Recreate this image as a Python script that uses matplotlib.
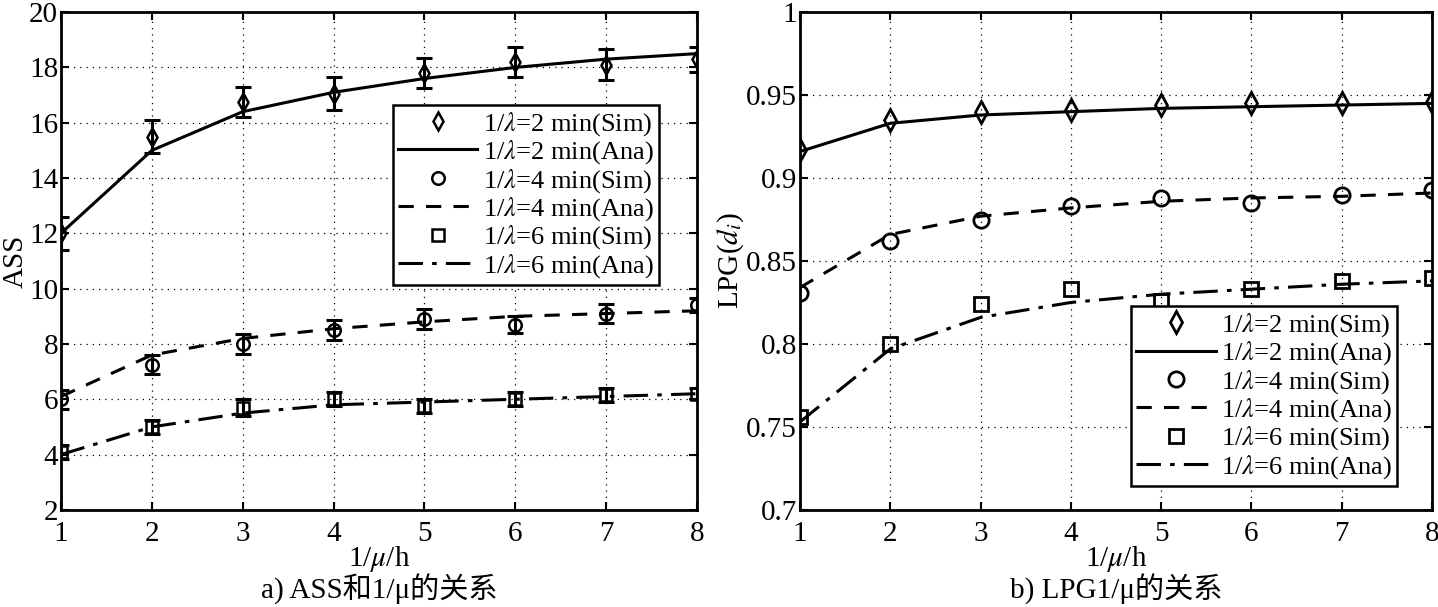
import numpy as np
import matplotlib.pyplot as plt

plt.rcParams['font.family'] = ['Liberation Serif', 'Noto Sans CJK SC']
plt.rcParams['mathtext.fontset'] = 'stix'

x = [1, 2, 3, 4, 5, 6, 7, 8]
labels = ['2', '4', '6']

# a) ASS
ass_sim = [[12.0, 15.5, 16.75, 17.05, 17.8, 18.2, 18.1, 18.3],
           [6.0, 7.25, 8.0, 8.5, 8.9, 8.7, 9.1, 9.4],
           [4.1, 5.0, 5.7, 6.0, 5.75, 6.0, 6.15, 6.2]]
ass_err = [[0.6, 0.6, 0.55, 0.6, 0.55, 0.55, 0.55, 0.45],
           [0.35, 0.35, 0.35, 0.35, 0.35, 0.3, 0.35, 0.25],
           [0.25, 0.25, 0.3, 0.25, 0.25, 0.25, 0.25, 0.2]]
ass_ana = [[12.0, 15.0, 16.4, 17.1, 17.6, 18.0, 18.3, 18.5],
           [6.1, 7.6, 8.2, 8.55, 8.8, 9.0, 9.1, 9.2],
           [4.0, 5.0, 5.5, 5.8, 5.9, 6.0, 6.1, 6.2]]

# b) LPG
lpg_sim = [[0.917, 0.935, 0.940, 0.941, 0.944, 0.945, 0.945, 0.946],
           [0.831, 0.862, 0.875, 0.883, 0.888, 0.885, 0.890, 0.893],
           [0.756, 0.800, 0.824, 0.833, 0.826, 0.833, 0.838, 0.840]]
lpg_ana = [[0.916, 0.933, 0.938, 0.940, 0.942, 0.943, 0.944, 0.945],
           [0.834, 0.866, 0.877, 0.882, 0.886, 0.888, 0.889, 0.891],
           [0.753, 0.797, 0.816, 0.825, 0.830, 0.833, 0.836, 0.838]]

markers = ['d', 'o', 's']
msizes = [9, 9, 8]
styles = ['-', (0, (5, 4)), (0, (8, 3, 1.5, 3))]

fig = plt.figure(figsize=(14.38, 6.07), dpi=100)
ax1 = fig.add_axes([0.0424, 0.160, 0.4423, 0.820])
ax2 = fig.add_axes([0.5563, 0.160, 0.4395, 0.820])


def style_axes(ax):
    ax.set_xlim(1, 8)
    ax.grid(True, color='black', linestyle=(0, (1, 4)), linewidth=0.9)
    ax.tick_params(direction='in', top=True, right=True, length=6, width=1.5,
                   labelsize=21, pad=2)
    ax.tick_params(axis='x', pad=8)
    for s in ax.spines.values():
        s.set_linewidth(2)
    ax.set_xticks(x)


for i in range(3):
    lab = '1/$\\lambda$=' + labels[i] + ' min'
    ax1.errorbar(x, ass_sim[i], yerr=ass_err[i], fmt='none', ecolor='black',
                 capsize=6, elinewidth=2.2, capthick=2.2)
    ax1.plot(x, ass_sim[i], markers[i], color='black', mfc='none', ms=msizes[i],
             mew=1.8, label=lab + '(Sim)')
    ax1.plot(x, ass_ana[i], color='black', linestyle=styles[i], linewidth=2.2,
             label=lab + '(Ana)')
    ax2.plot(x, lpg_sim[i], markers[i], color='black', mfc='none', ms=msizes[i] + 2,
             mew=2, label=lab + '(Sim)')
    ax2.plot(x, lpg_ana[i], color='black', linestyle=styles[i], linewidth=2.2,
             label=lab + '(Ana)')

style_axes(ax1)
ax1.set_ylim(2, 20)
ax1.set_yticks(np.arange(2, 21, 2))
ax1.set_ylabel('ASS', fontsize=21, labelpad=0)
ax1.set_xlabel('1/$\\mu$/h', fontsize=21, labelpad=-2)

style_axes(ax2)
ax2.set_ylim(0.7, 1.0)
ax2.set_yticks([0.7, 0.75, 0.8, 0.85, 0.9, 0.95, 1.0])
ax2.set_yticklabels(['0.7', '0.75', '0.8', '0.85', '0.9', '0.95', '1'])
ax2.set_ylabel('LPG($d_i$)', fontsize=21, labelpad=0)
ax2.set_xlabel('1/$\\mu$/h', fontsize=21, labelpad=-2)

for ax, anchor in [(ax1, (0.522, 0.452)), (ax2, (0.524, 0.048))]:
    leg = ax.legend(loc='lower left', bbox_to_anchor=anchor, fontsize=19,
                    frameon=True, fancybox=False, edgecolor='black', framealpha=1,
                    handlelength=3.0, handletextpad=0.2, labelspacing=0.02,
                    borderpad=0.2, borderaxespad=0)
    leg.get_frame().set_linewidth(1.8)

fig.text(0.264, 0.014, 'a) ASS和1/μ的关系', ha='center', va='baseline', fontsize=21)
fig.text(0.776, 0.014, 'b) LPG1/μ的关系', ha='center', va='baseline', fontsize=21)

fig.savefig('out.png', dpi=100)
